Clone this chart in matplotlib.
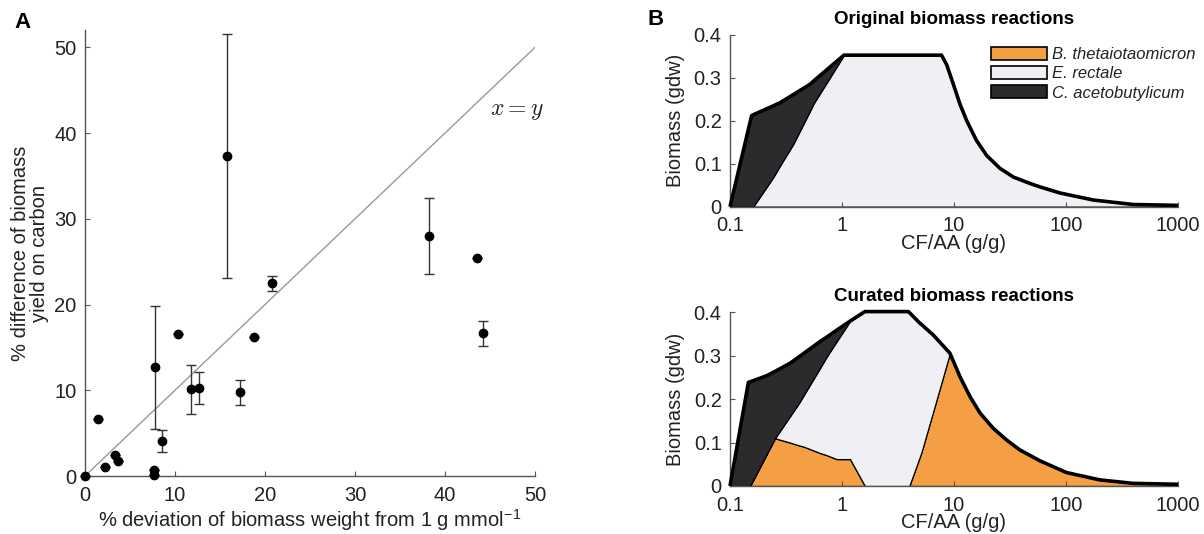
import numpy as np
import matplotlib
matplotlib.use("Agg")
import matplotlib.pyplot as plt
from matplotlib.patches import Patch

plt.rcParams['font.family'] = ['Liberation Sans', 'DejaVu Sans']
plt.rcParams['mathtext.fontset'] = 'cm'

# ---- panel A: biomass weight deviation vs yield difference ----
dev_weight = [0.0, 1.43, 2.18, 3.37, 3.65, 7.7, 7.7, 7.77, 8.52, 10.3, 11.74,
              12.69, 15.74, 17.25, 18.76, 20.82, 38.26, 43.58, 44.2]
diff_yield = [0.0, 6.7, 1.08, 2.4, 1.8, 0.1, 0.65, 12.67, 4.06, 16.6, 10.1,
              10.24, 37.3, 9.76, 16.2, 22.47, 28.0, 25.4, 16.65]
yield_err = [0.0, 0.0, 0.0, 0.0, 0.0, 0.0, 0.0, 7.2, 1.25, 0.0, 2.9,
             1.85, 14.2, 1.45, 0.0, 0.85, 4.45, 0.0, 1.45]

# ---- panel B: community biomass vs CF/AA ratio ----
species = ["B. thetaiotaomicron", "E. rectale", "C. acetobutylicum"]
species_colors = ["#f59f45", "#eef0f3", "#2b2b2e"]

orig_cfaa = [0.1, 0.156, 0.161, 0.244, 0.279, 0.367, 0.518, 0.554, 1.04, 7.74,
             8.6, 9.87, 11.3, 13, 15.9, 19.6, 25.8, 33.9, 47.7, 58.6, 88, 175,
             400, 1000]
orig_theta = [0] * 24
orig_rectale = [0, 0, 0, 0.069, 0.095, 0.146, 0.223, 0.239, 0.353, 0.353,
                0.331, 0.285, 0.239, 0.200, 0.154, 0.119, 0.089, 0.069, 0.054,
                0.046, 0.032, 0.0155, 0.005, 0.003]
orig_aceto = [0, 0.212, 0.214, 0.166, 0.147, 0.115, 0.062, 0.053, 0, 0,
              0, 0, 0, 0, 0, 0, 0, 0, 0, 0, 0, 0, 0, 0]

cur_cfaa = [0.1, 0.146, 0.151, 0.212, 0.252, 0.344, 0.42, 0.452, 0.637, 0.73,
            0.895, 1.18, 1.6, 3.91, 3.99, 4.97, 5.14, 6.53, 9.2, 11.3, 13.9,
            17.1, 22.4, 29.5, 38.8, 58.6, 101, 201, 400, 1000]
cur_theta = [0, 0, 0, 0.073, 0.110, 0.100, 0.093, 0.091, 0.076, 0.071,
             0.062, 0.062, 0, 0, 0, 0.068, 0.079, 0.172, 0.306, 0.252, 0.206,
             0.168, 0.133, 0.106, 0.083, 0.058, 0.031, 0.014, 0.006, 0.004]
cur_rectale = [0, 0, 0, 0, 0, 0.061, 0.101, 0.117, 0.196, 0.227,
               0.271, 0.318, 0.402, 0.402, 0.400, 0.307, 0.293, 0.176, 0, 0, 0,
               0, 0, 0, 0, 0, 0, 0, 0, 0]
cur_aceto = [0, 0.239, 0.240, 0.181, 0.154, 0.122, 0.105, 0.097, 0.061, 0.045,
             0.026, 0, 0, 0, 0, 0, 0, 0, 0, 0, 0,
             0, 0, 0, 0, 0, 0, 0, 0, 0]

fig = plt.figure(figsize=(12.04, 5.34), dpi=100)

axis_col = "#555555"
text_col = "#222222"
fs = 14.5


def style_axes(ax):
    for s in ["top", "right"]:
        ax.spines[s].set_visible(False)
    for s in ["left", "bottom"]:
        ax.spines[s].set_color(axis_col)
        ax.spines[s].set_linewidth(1.0)
    ax.tick_params(direction="in", length=3.5, width=0.8, color=axis_col,
                   labelsize=fs, labelcolor=text_col)
    ax.tick_params(axis="x", pad=7)
    ax.tick_params(axis="y", pad=6)


# panel A
axA = fig.add_axes([0.0706, 0.1086, 0.3738, 0.835])
style_axes(axA)
axA.plot([0, 50], [0, 50], color="#999999", lw=1.0)
axA.errorbar(dev_weight, diff_yield, yerr=yield_err, fmt="o", color="black",
             ecolor="#333333", elinewidth=1.0, capsize=3.5, capthick=1.0,
             markersize=6, clip_on=False, zorder=3)
axA.text(51, 42.6, r"$x = y$", fontsize=17, ha="right", va="center",
         color=text_col)
axA.set_xlim(0, 50)
axA.set_ylim(0, 52)
axA.set_xticks([0, 10, 20, 30, 40, 50])
axA.set_yticks([0, 10, 20, 30, 40, 50])
axA.set_xlabel(r"% deviation of biomass weight from 1 g mmol$^{\mathregular{-1}}$",
               fontsize=fs, color=text_col, labelpad=2)
axA.set_ylabel("% difference of biomass\nyield on carbon", fontsize=fs,
               color=text_col, labelpad=4, linespacing=0.95)
fig.text(0.012, 0.958, "A", fontsize=16, fontweight="bold", va="center")


def biomass_panel(rect, x, theta, rectale, aceto, title):
    ax = fig.add_axes(rect)
    style_axes(ax)
    ax.set_xscale("log")
    ax.stackplot(x, theta, rectale, aceto, colors=species_colors,
                 edgecolor="black", linewidth=0.9)
    total = np.array(theta) + np.array(rectale) + np.array(aceto)
    ax.plot(x, total, color="black", lw=2.6, solid_joinstyle="round",
            solid_capstyle="butt", clip_on=False, zorder=4)
    ax.set_xlim(0.1, 1000)
    ax.set_ylim(0, 0.4)
    ax.set_xticks([0.1, 1, 10, 100, 1000])
    ax.set_xticklabels(["0.1", "1", "10", "100", "1000"])
    ax.minorticks_off()
    ax.set_yticks([0, 0.1, 0.2, 0.3, 0.4])
    ax.set_yticklabels(["0", "0.1", "0.2", "0.3", "0.4"])
    ax.set_xlabel("CF/AA (g/g)", fontsize=fs, color=text_col, labelpad=-1)
    ax.set_ylabel("Biomass (gdw)", fontsize=fs, color=text_col, labelpad=6)
    ax.set_title(title, fontsize=13.5, fontweight="bold", pad=8)
    return ax


axB1 = biomass_panel([0.6063, 0.613, 0.3721, 0.3215], orig_cfaa, orig_theta,
                     orig_rectale, orig_aceto, "Original biomass reactions")
axB2 = biomass_panel([0.6063, 0.0899, 0.3721, 0.325], cur_cfaa, cur_theta,
                     cur_rectale, cur_aceto, "Curated biomass reactions")

handles = [Patch(facecolor=c, edgecolor="black", linewidth=1.2)
           for c in species_colors]
leg = axB1.legend(handles, species, loc="upper left",
                  bbox_to_anchor=(0.582, 0.93), frameon=False,
                  prop={"style": "italic", "size": 12},
                  handlelength=3.4, handleheight=0.85, handletextpad=0.3,
                  labelspacing=0.22, borderpad=0, borderaxespad=0)
for t in leg.get_texts():
    t.set_color(text_col)
fig.text(0.538, 0.964, "B", fontsize=16, fontweight="bold", va="center")

plt.savefig("out.png", dpi=100)
